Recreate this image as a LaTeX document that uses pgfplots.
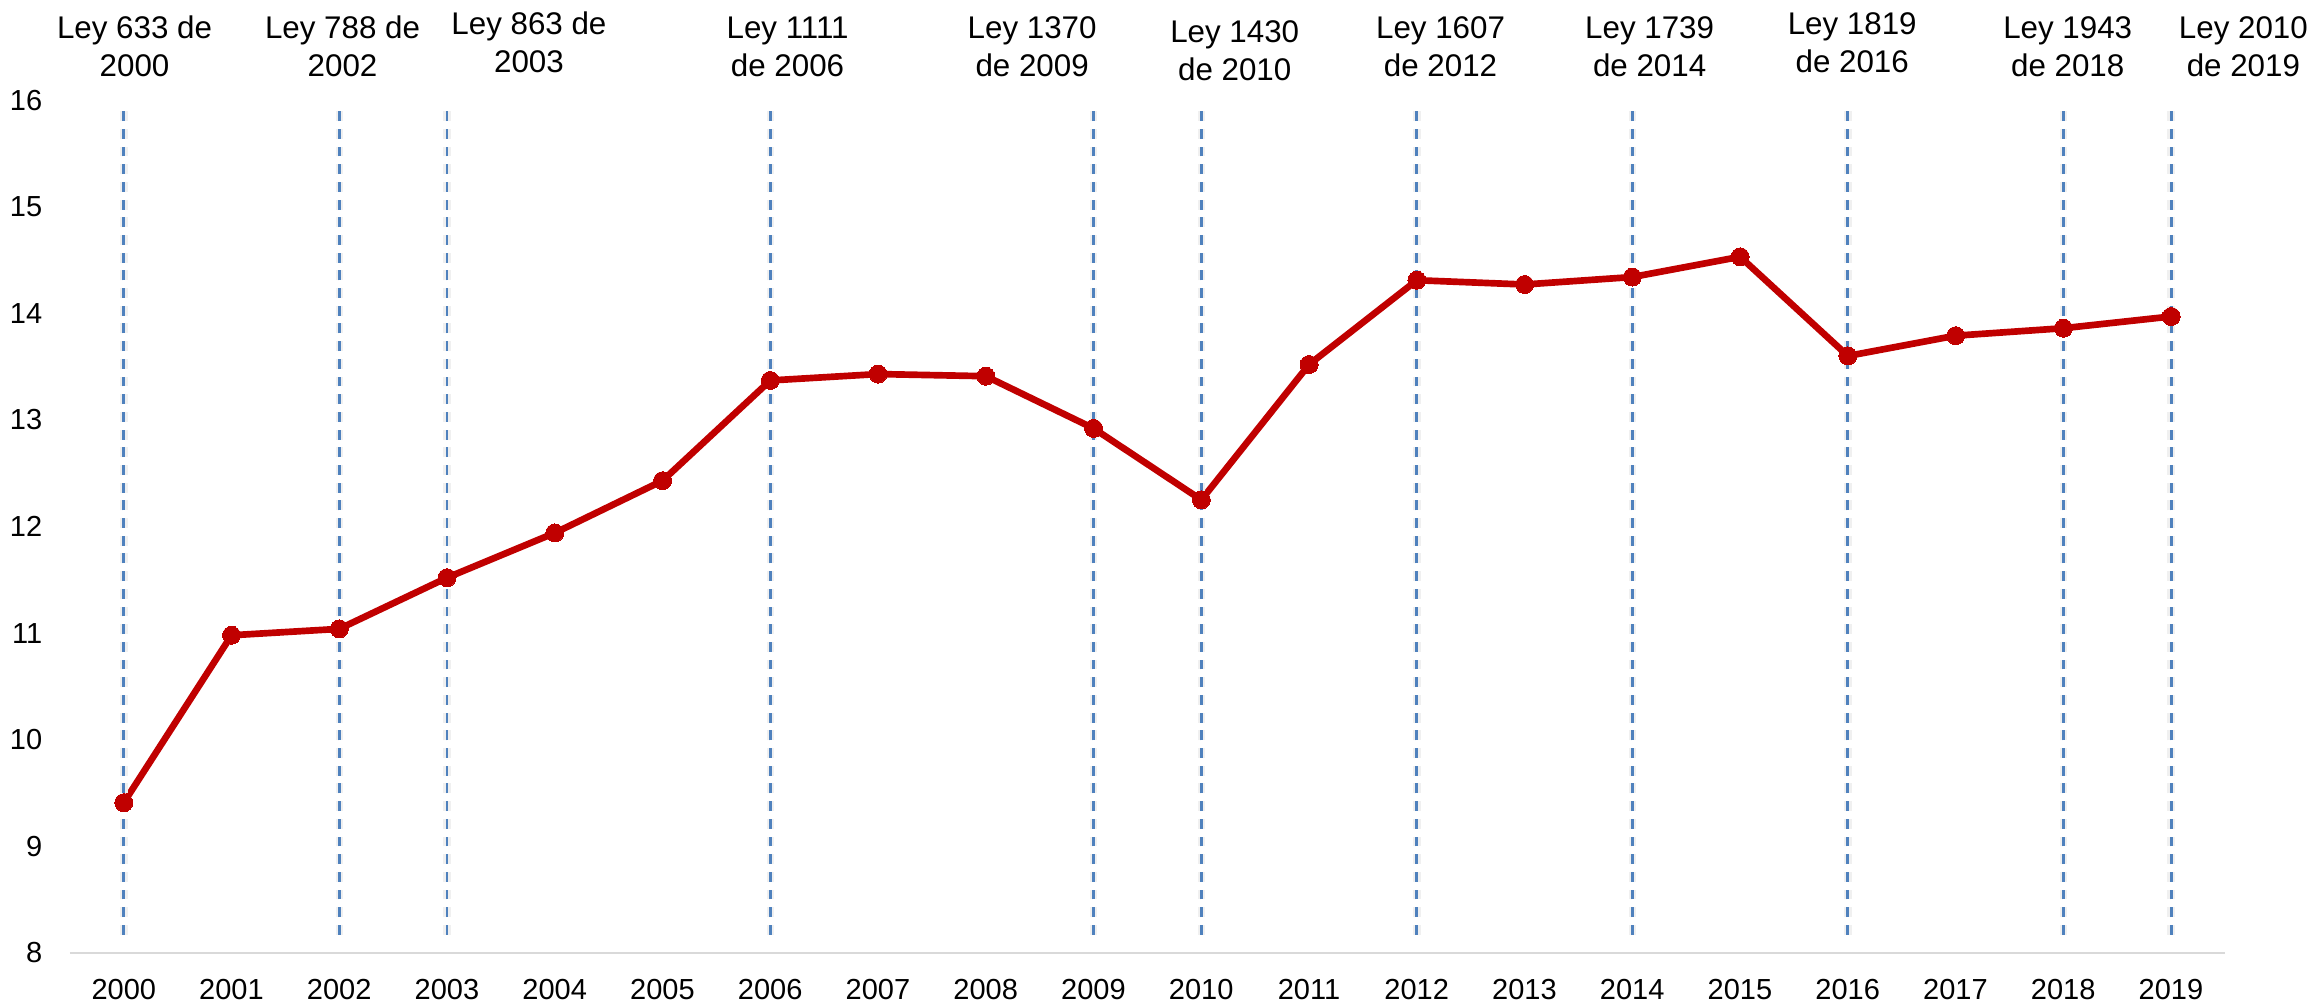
\documentclass[border=0pt]{standalone}
\usepackage{fontspec}
\setmainfont{Liberation Sans}
\usepackage{pgfplots}
\pgfplotsset{compat=1.18}
\definecolor{redline}{HTML}{C00000}
\definecolor{dashblue}{HTML}{4F81BD}
\definecolor{axisgray}{HTML}{D9D9D9}

\pgfplotstableread{
year value
2000 9.41
2001 10.98
2002 11.04
2003 11.52
2004 11.94
2005 12.43
2006 13.37
2007 13.43
2008 13.41
2009 12.92
2010 12.25
2011 13.52
2012 14.31
2013 14.27
2014 14.34
2015 14.53
2016 13.60
2017 13.79
2018 13.86
2019 13.97
}\datatable

\begin{document}
\begin{tikzpicture}
\begin{axis}[
  name=ax,
  scale only axis,
  width=743.1pt, height=294.1pt,
  xmin=1999.5, xmax=2019.5,
  ymin=8, ymax=16,
  xtick={2000,...,2019},
  ytick={8,...,16},
  axis lines*=left,
  x axis line style={draw=axisgray, line width=0.6pt},
  y axis line style={draw=none},
  major tick length=0pt,
  tick style={draw=none},
  clip=false,
  tick label style={font=\fontsize{10}{12}\selectfont},
  /pgf/number format/assume math mode=true,
  /pgf/number format/1000 sep={},
  xticklabel style={yshift=-5.6pt},
  yticklabel style={xshift=-6pt},
]
\addplot[redline, line width=2.3pt, mark=*, mark size=3.1pt,
  mark options={solid, fill=redline, draw=redline, line width=0pt}]
  table[x=year, y=value] {\datatable};

% vertical law markers (soft shadow + dashed line)
\pgfplotsinvokeforeach{2000,2002,2003,2006,2009,2010,2012,2014,2016,2018,2019}{
  \addplot[gray!12, line width=2.6pt, dash pattern=on 3.4pt off 2.7pt, forget plot]
    coordinates {(#1,8.17) (#1,15.92)};
  \addplot[dashblue, line width=1pt, dash pattern=on 3.4pt off 2.7pt, forget plot]
    coordinates {(#1,8.17) (#1,15.92)};
}

\begin{scope}[every node/.style={align=center, anchor=center,
   font=\fontsize{10.8}{13.1}\selectfont, inner sep=0pt}]
\node at (axis cs:2000.10,16.50) {Ley 633 de\\2000};
\node at (axis cs:2002.03,16.50) {Ley 788 de\\2002};
\node at (axis cs:2003.76,16.54) {Ley 863 de\\2003};
\node at (axis cs:2006.16,16.50) {Ley 1111\\de 2006};
\node at (axis cs:2008.43,16.50) {Ley 1370\\de 2009};
\node at (axis cs:2010.31,16.46) {Ley 1430\\de 2010};
\node at (axis cs:2012.22,16.50) {Ley 1607\\de 2012};
\node at (axis cs:2014.16,16.50) {Ley 1739\\de 2014};
\node at (axis cs:2016.04,16.54) {Ley 1819\\de 2016};
\node at (axis cs:2018.04,16.50) {Ley 1943\\de 2018};
\node at (axis cs:2019.67,16.50) {Ley 2010\\de 2019};
\end{scope}
\end{axis}
\pgfresetboundingbox
\path[use as bounding box] ([shift={(-24.1pt,-17.6pt)}]ax.south west)
  rectangle ([shift={(28.6pt,34.5pt)}]ax.north east);
\end{tikzpicture}
\end{document}
